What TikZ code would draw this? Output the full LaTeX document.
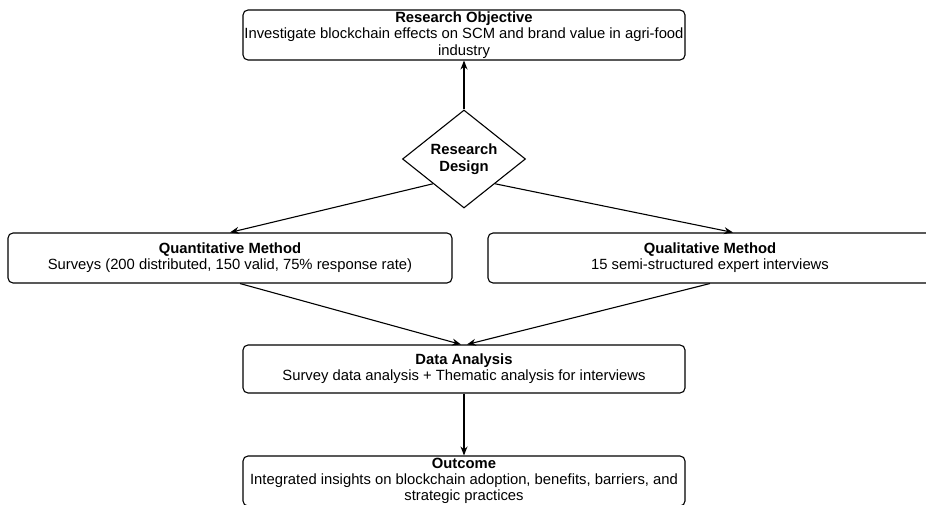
\documentclass[tikz,border=0pt]{standalone}
\usepackage{fontspec}
\setmainfont{Liberation Sans}
\usetikzlibrary{arrows.meta,positioning,shapes.geometric,calc}

\begin{document}
\begin{tikzpicture}[
  x=1pt,y=-1pt,
  every node/.style={font=\fontsize{14.8}{16.2}\selectfont},
  stagebox/.style={draw,rounded corners=5pt,line width=1.1pt,minimum width=442pt,
                   minimum height=50pt,align=center,inner sep=1pt},
  choice/.style={draw,diamond,line width=1.1pt,minimum width=123pt,minimum height=97pt,
                 align=center,inner sep=0pt,font=\fontsize{14.8}{17.5}\selectfont\bfseries},
  flow/.style={-{Stealth[length=9pt,width=7pt,inset=3pt]},line width=1.1pt},
]
  \useasboundingbox (0,0) rectangle (926,505);

  % objective and design
  \node[stagebox] (objective) at (464,35)
    {\textbf{Research Objective}\\Investigate blockchain effects on SCM and brand value in agri-food\\industry};
  \node[choice] (design) at (464,159) {Research\\Design};

  % methods
  \node[stagebox,minimum width=444pt] (quant) at (230,258)
    {\textbf{Quantitative Method}\\Surveys (200 distributed, 150 valid, 75\% response rate)};
  \node[stagebox,minimum width=444pt] (qual) at (710,258)
    {\textbf{Qualitative Method}\\15 semi-structured expert interviews};

  % analysis and outcome
  \node[stagebox,minimum height=48pt] (analysis) at (464,369)
    {\textbf{Data Analysis}\\Survey data analysis + Thematic analysis for interviews};
  \node[stagebox] (outcome) at (464,481)
    {\textbf{Outcome}\\Integrated insights on blockchain adoption, benefits, barriers, and\\strategic practices};

  % connectors
  \draw[flow] (design.north) -- (objective.south);
  \draw[flow] (design.south west) -- (quant.north);
  \draw[flow] (design.south east) -- ($(qual.north)+(23,0)$);
  \draw[flow] ($(quant.south)+(10,0)$) -- ($(analysis.north)+(-3,0)$);
  \draw[flow] (qual.south) -- ($(analysis.north)+(3,0)$);
  \draw[flow] (analysis.south) -- (outcome.north);
\end{tikzpicture}
\end{document}
